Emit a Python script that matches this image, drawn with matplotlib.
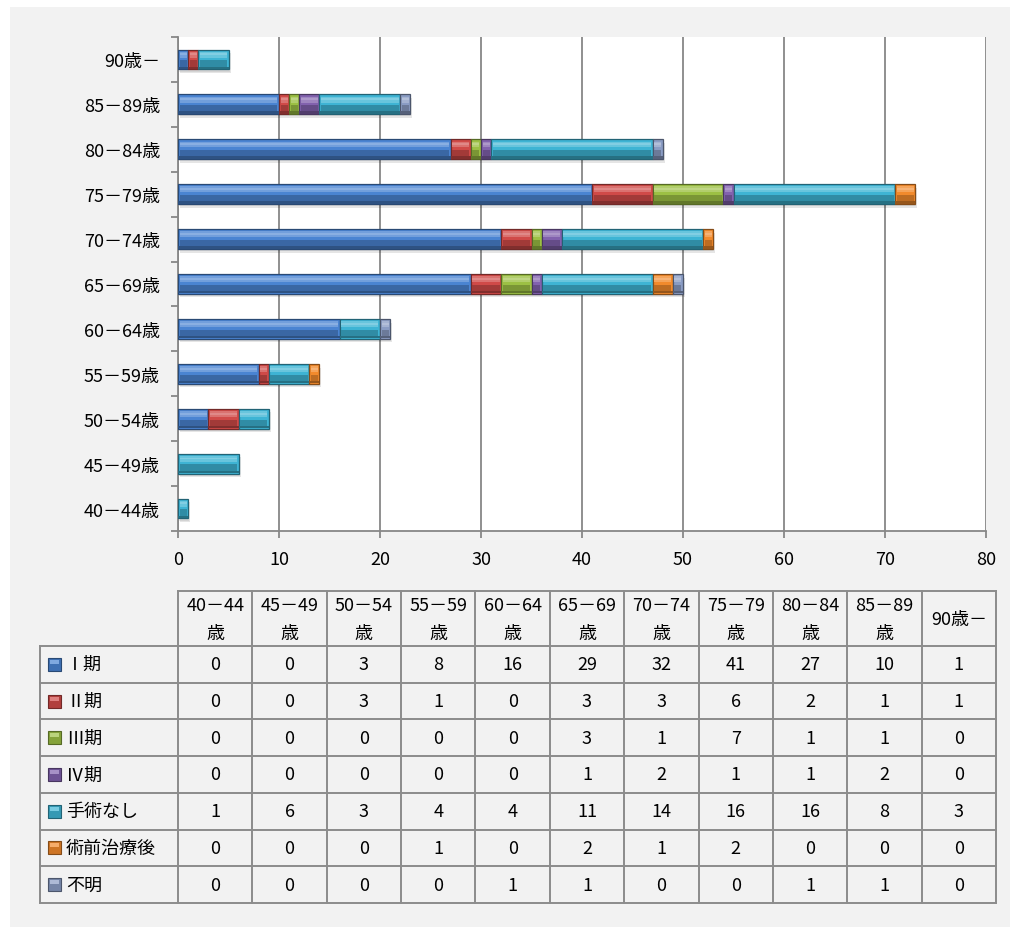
import numpy as np
import matplotlib
matplotlib.use("Agg")
import matplotlib.pyplot as plt
from matplotlib.patches import Rectangle
from matplotlib.colors import to_rgb

plt.rcParams['font.family'] = ['Noto Sans CJK JP', 'DejaVu Sans']

# age groups (bottom to top in the chart, left to right in the table)
categories = ["40－44歳", "45－49歳", "50－54歳", "55－59歳", "60－64歳", "65－69歳",
              "70－74歳", "75－79歳", "80－84歳", "85－89歳", "90歳－"]
header_top = ["40－44", "45－49", "50－54", "55－59", "60－64", "65－69",
              "70－74", "75－79", "80－84", "85－89", "90歳－"]
header_bottom = ["歳", "歳", "歳", "歳", "歳", "歳", "歳", "歳", "歳", "歳", ""]

series_names = ["Ⅰ期", "Ⅱ期", "Ⅲ期", "Ⅳ期", "手術なし", "術前治療後", "不明"]
stage1 = [0, 0, 3, 8, 16, 29, 32, 41, 27, 10, 1]
stage2 = [0, 0, 3, 1, 0, 3, 3, 6, 2, 1, 1]
stage3 = [0, 0, 0, 0, 0, 3, 1, 7, 1, 1, 0]
stage4 = [0, 0, 0, 0, 0, 1, 2, 1, 1, 2, 0]
no_surgery = [1, 6, 3, 4, 4, 11, 14, 16, 16, 8, 3]
neoadjuvant = [0, 0, 0, 1, 0, 2, 1, 2, 0, 0, 0]
unknown = [0, 0, 0, 0, 1, 1, 0, 0, 1, 1, 0]
series = [stage1, stage2, stage3, stage4, no_surgery, neoadjuvant, unknown]

colors = ["#4A84D2", "#D04A48", "#9CC044", "#8262AE", "#3EB4D4", "#F28A2C", "#8A9CC4"]


def mix(c, other, t):
    a = np.array(to_rgb(c))
    b = np.array(to_rgb(other))
    return tuple(a * (1 - t) + b * t)


W, H = 1010, 928
fig = plt.figure(figsize=(W / 100, H / 100), dpi=100)
fig.patch.set_facecolor("white")

# background panel + table drawn in pixel coordinates
bg = fig.add_axes([0, 0, 1, 1])
bg.set_xlim(0, W)
bg.set_ylim(H, 0)
bg.axis("off")
bg.add_patch(Rectangle((10, 8), W - 10, H - 8, facecolor="#F2F2F2", edgecolor="none"))

# ---- chart ----
ax = fig.add_axes([178 / W, 1 - 532 / H, (986 - 178) / W, (532 - 38) / H])
ax.set_facecolor("white")
y = np.arange(len(categories))
h = 0.44
left = np.zeros(len(categories))
totals = np.sum(series, axis=0)

# soft drop shadow
ax.barh(y - 0.08, totals, left=0.2, height=h, color="#000000", alpha=0.10,
        linewidth=0, zorder=2)
ax.barh(y - 0.05, totals, left=0.1, height=h, color="#000000", alpha=0.08,
        linewidth=0, zorder=2)

for vals, c in zip(series, colors):
    vals = np.array(vals, dtype=float)
    m = vals > 0
    yy, vv, ll = y[m], vals[m], left[m]
    ax.barh(yy, vv, left=ll, height=h, color=c, edgecolor=mix(c, "black", 0.45),
            linewidth=0.9, zorder=3)
    # bevel: light top band, dark lower half
    ax.barh(yy + h * 0.24, vv - 0.3, left=ll + 0.15, height=h * 0.3,
            color=mix(c, "white", 0.22), linewidth=0, zorder=4)
    ax.barh(yy + h * 0.26, vv - 0.3, left=ll + 0.15, height=h * 0.1,
            color=mix(c, "white", 0.35), linewidth=0, zorder=4)
    ax.barh(yy - h * 0.25, vv - 0.3, left=ll + 0.15, height=h * 0.42,
            color=mix(c, "black", 0.22), linewidth=0, zorder=4)
    ax.barh(yy - h * 0.42, vv, left=ll, height=h * 0.12,
            color=mix(c, "black", 0.38), linewidth=0, zorder=4)
    left = left + vals

ax.set_xlim(0, 80)
ax.set_ylim(-0.5, len(categories) - 0.5)
ax.set_xticks(np.arange(0, 81, 10))
ax.set_yticks(y)
ax.set_yticklabels(categories)
ax.set_yticks(np.arange(-0.5, len(categories), 1), minor=True)
ax.grid(axis="x", color="#878787", linewidth=1.3, zorder=1)
ax.set_axisbelow(True)
for s in ["top", "right"]:
    ax.spines[s].set_visible(False)
for s in ["left", "bottom"]:
    ax.spines[s].set_color("#878787")
    ax.spines[s].set_linewidth(1.3)
ax.tick_params(axis="x", direction="out", length=5, width=1.3, color="#878787",
               labelsize=13, pad=9)
ax.tick_params(axis="y", which="major", length=0, labelsize=13, pad=13)
ax.tick_params(axis="y", which="minor", direction="out", length=5, width=1.3,
               color="#878787")

# ---- data table ----
tx0, tx1 = 40, 178
col_w = (996 - 178) / len(categories)
head_top, head_bot = 592, 647
row_h = (904 - 647) / len(series_names)
lc = "#8C8C8C"
lw = 1.4
fs = 13

# header block
bg.plot([tx1, 996], [head_top, head_top], color=lc, lw=lw)
for j in range(len(categories) + 1):
    x = tx1 + j * col_w
    bg.plot([x, x], [head_top, 904], color=lc, lw=lw)
bg.plot([tx0, tx0], [head_bot, 904], color=lc, lw=lw)
for i in range(len(series_names) + 1):
    yy = head_bot + i * row_h
    bg.plot([tx0, 996], [yy, yy], color=lc, lw=lw)

for j in range(len(categories)):
    cx = tx1 + (j + 0.5) * col_w
    if header_bottom[j]:
        bg.text(cx, 606, header_top[j], ha="center", va="center", fontsize=fs)
        bg.text(cx, 634, header_bottom[j], ha="center", va="center", fontsize=fs)
    else:
        bg.text(cx, 620, header_top[j], ha="center", va="center", fontsize=fs)

for i, (name, vals, c) in enumerate(zip(series_names, series, colors)):
    cy = head_bot + (i + 0.5) * row_h
    bg.add_patch(Rectangle((48, cy - 6.5), 13, 13, facecolor=mix(c, "black", 0.15),
                           edgecolor=mix(c, "black", 0.45), lw=0.8))
    bg.add_patch(Rectangle((50, cy - 4.5), 9, 4, facecolor=mix(c, "white", 0.3),
                           edgecolor="none"))
    bg.text(66, cy, name, ha="left", va="center", fontsize=fs)
    for j, v in enumerate(vals):
        bg.text(tx1 + (j + 0.5) * col_w, cy, str(v), ha="center", va="center",
                fontsize=fs)

fig.savefig("out.png", dpi=100)
